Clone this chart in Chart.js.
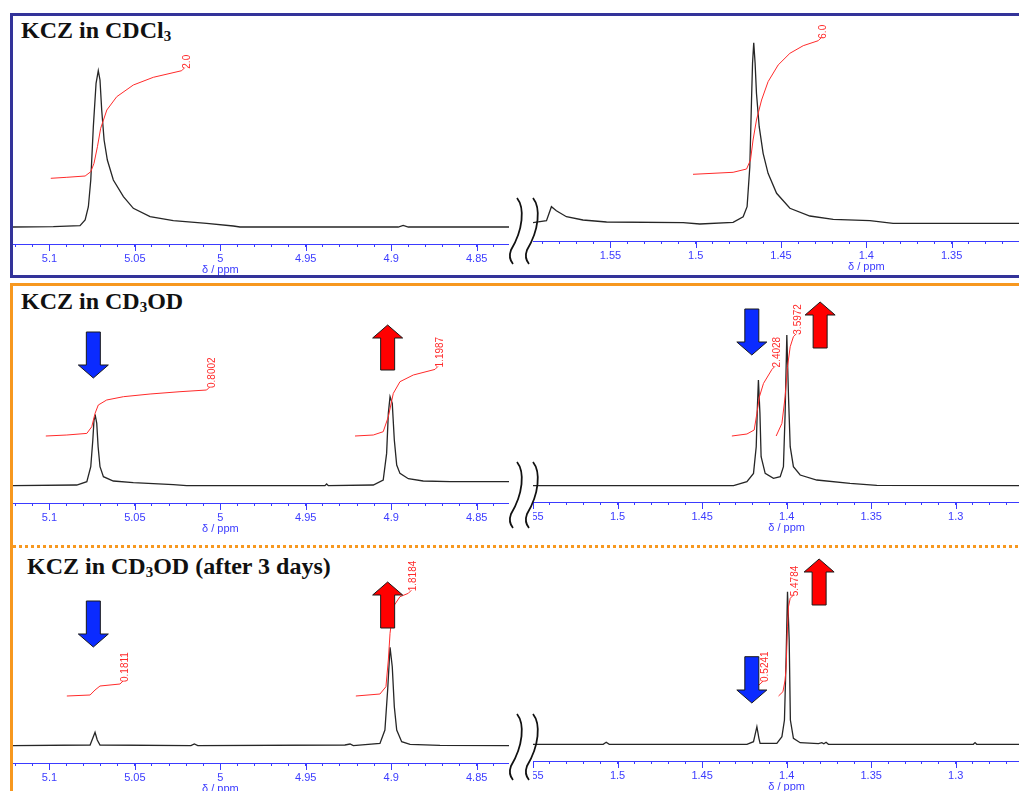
<!DOCTYPE html>
<html>
<head>
<meta charset="utf-8">
<script src="https://cdn.jsdelivr.net/npm/chart.js@4.4.0/dist/chart.umd.min.js"></script>
<style>
  body { margin: 0; width: 1019px; height: 791px; overflow: hidden; position: relative; background: #fff; }
  canvas { position: absolute; }
  .frame-cdcl3 { position: absolute; left: 10px; top: 13px; width: 1040px; height: 259px; border: 3px solid #333399; }
  .frame-cd3od-top { position: absolute; left: 10px; top: 283px; width: 1020px; height: 3px; background: #f7981f; }
  .frame-cd3od-left { position: absolute; left: 10px; top: 283px; width: 3px; height: 520px; background: #f7981f; }
  .dots { position: absolute; left: 13px; top: 545px; width: 1010px; height: 3px;
          background: repeating-linear-gradient(90deg, #f7981f 0 3px, transparent 3px 6px); }
  .title { position: absolute; font-family: "Liberation Serif", "Times New Roman", serif; font-weight: bold;
           font-size: 24px; line-height: 24px; color: #111; white-space: nowrap; }
  .title sub { font-size: 15px; vertical-align: -3px; line-height: 0; }
</style>
</head>
<body>
<div class="frame-cdcl3"></div>
<div class="frame-cd3od-top"></div>
<div class="frame-cd3od-left"></div>
<div class="dots"></div>
<div class="title" style="left:21px; top:18px;">KCZ in CDCl<sub>3</sub></div>
<div class="title" style="left:21px; top:289px;">KCZ in CD<sub>3</sub>OD</div>
<div class="title" style="left:27px; top:554px;">KCZ in CD<sub>3</sub>OD (after 3 days)</div>
<script>
// 横轴范围 (ppm)
const range5 = [4.8311, 5.1213];
const rangeCdcl3High = [1.3105, 1.5954];
const range14 = [1.2626, 1.55];
const minorStep = 0.01;
const majorStep = 0.05;

// 积分值
const integralValues = ['2.0', '6.0', '0.8002', '1.1987', '2.4028', '3.5972', '0.1811', '1.8184', '0.5241', '5.4784'];

// CDCl3 谱图 [ppm, 强度]
const cdcl3Spec5 = [[5.1213,0],[5.0977,0.3],[5.0821,1.3],[5.0791,7],[5.0772,20.3],[5.0758,47],[5.0743,100.3],[5.0727,143.7],[5.0714,156.3],[5.0704,147],[5.0694,117],[5.068,87],[5.0661,67],[5.0626,47],[5.0567,30.3],[5.0509,18.7],[5.0411,10.3],[5.0275,6.3],[5.008,3.7],[4.9924,1],[4.9885,0],[4.8959,0],[4.893,1.5],[4.89,0],[4.8311,0]];
const cdcl3Int5 = [[5.0992,48.7],[5.0898,49.7],[5.0791,51],[5.0758,55.3],[5.0739,63.7],[5.0719,80.3],[5.07,98.7],[5.0664,117],[5.0606,130.3],[5.0509,142],[5.0392,149.7],[5.0226,156.3]];
const cdcl3Spec14 = [[1.5954,1.3],[1.5875,3.3],[1.5846,17.3],[1.5817,13.3],[1.5758,7.3],[1.5661,4],[1.5523,2],[1.5074,1.3],[1.4976,0],[1.4781,1.7],[1.4722,7.3],[1.4699,17.3],[1.4683,57.3],[1.4673,124],[1.4667,160.7],[1.466,181.3],[1.4652,160.7],[1.4644,130.7],[1.4628,97.3],[1.4605,70.7],[1.4576,50.7],[1.4526,30.7],[1.4448,15.7],[1.4331,8],[1.4194,4.7],[1.3979,3.3],[1.3843,0.7],[1.3105,0.7]];
const cdcl3Int14 = [[1.5016,49.7],[1.4781,51.7],[1.4702,55],[1.4679,64],[1.4664,84],[1.4644,104],[1.4614,124],[1.4576,142.3],[1.4517,159],[1.4448,170.7],[1.437,178.3],[1.4282,183.3]];

// CD3OD 谱图
const cd3odSpec5 = [[5.1213,0],[5.084,0.7],[5.0781,4],[5.0758,19],[5.0746,45.7],[5.0739,65.7],[5.0731,69.7],[5.0723,62.3],[5.0715,39],[5.0704,19],[5.0684,9],[5.0626,4.7],[5.0509,3],[5.0275,1],[5.0197,0],[4.9388,0],[4.9378,1.7],[4.9368,0],[4.9105,0.7],[4.9047,5.7],[4.9027,32.3],[4.9017,72.3],[4.9007,89],[4.8994,82.3],[4.8982,45.7],[4.8968,20.7],[4.8949,12.3],[4.89,7],[4.8813,4.7],[4.8656,4],[4.8311,4]];
const cd3odInt5a = [[5.1021,49.7],[5.0898,50.7],[5.0781,52.3],[5.0752,59],[5.0733,72.3],[5.0714,80.7],[5.0665,85.7],[5.0567,89],[5.0411,91.7],[5.0236,94],[5.008,95.7]];
const cd3odInt5b = [[4.9212,49.7],[4.9105,50.7],[4.9047,54],[4.9017,69],[4.8988,92.3],[4.8949,104],[4.8871,110.7],[4.8744,116.3]];
const cd3odSpec14 = [[1.55,0],[1.4314,0],[1.4235,4],[1.4196,12.3],[1.418,39],[1.4173,79],[1.4167,105.7],[1.4158,72.3],[1.4151,29],[1.4127,12.3],[1.4078,7.3],[1.4038,9],[1.4019,19],[1.4009,72.3],[1.3999,150.7],[1.3989,89],[1.3979,39],[1.396,19],[1.392,10.7],[1.3822,5.7],[1.3625,2.4],[1.3467,0.4],[1.2626,0]];
const cd3odInt14a = [[1.4324,49.7],[1.4235,51.7],[1.4192,55.7],[1.4176,72.3],[1.4161,89],[1.4137,102.3],[1.4087,116.3]];
const cd3odInt14b = [[1.4062,49.7],[1.4028,62.3],[1.4009,89],[1.3995,119],[1.3979,139],[1.396,149]];

// CD3OD 3天后
const agedSpec5 = [[5.1213,0],[5.0762,0.7],[5.0743,9],[5.0733,13.4],[5.072,5.7],[5.0704,0.7],[5.0172,0],[5.0152,1.7],[5.0132,0],[4.9271,0.7],[4.9241,1.7],[4.9222,0],[4.9066,2.3],[4.9037,15.7],[4.9021,55.7],[4.9007,98.4],[4.8994,79],[4.8982,39],[4.8968,15.7],[4.8939,4],[4.889,1.4],[4.8715,0.4],[4.8311,0]];
const agedInt5a = [[5.0898,49.7],[5.0762,50.7],[5.0733,55.7],[5.0704,59.7],[5.0587,61.7]];
const agedInt5b = [[4.9207,49.7],[4.9066,51.7],[4.9031,59],[4.9017,85.7],[4.9007,112.4],[4.8988,139],[4.8949,149],[4.89,152.4]];
const agedSpec14 = [[1.55,0],[1.5085,0],[1.5067,2],[1.5049,0],[1.4235,0],[1.4196,2.6],[1.4176,17.6],[1.4164,6],[1.4157,1],[1.4058,1],[1.4028,7.6],[1.4013,24.3],[1.4003,87.6],[1.3995,152.6],[1.3985,104.3],[1.3978,24.3],[1.396,6],[1.392,1.6],[1.3812,0.7],[1.3792,1.7],[1.378,0.5],[1.3767,2],[1.3753,0],[1.2896,0],[1.2886,1.7],[1.2876,0],[1.2626,0]];
const agedInt14a = [[1.4192,57.3],[1.417,58.5],[1.4157,60.3]];
const agedInt14b = [[1.4048,48.3],[1.4022,52.6],[1.4009,64.3],[1.4003,77.6],[1.3995,117.6],[1.3989,137.6],[1.3979,146]];

// 颜色
const AXIS_BLUE = '#3b3bff';
const SPEC_BLACK = '#262626';
const INT_RED = '#ff2a2a';
const ARROW_BLUE = '#0b2bff';
const ARROW_RED = '#ff0000';

Chart.defaults.font.family = '"Liberation Sans", Arial, sans-serif';

function isMajor(v) {
  return Math.abs(v / majorStep - Math.round(v / majorStep)) < 1e-6;
}

function tickLabel(v) {
  return isMajor(v) ? String(Number(v.toFixed(2))) : '';
}

function toXY(arr) {
  return arr.map(p => ({ x: p[0], y: p[1] }));
}

// 粗箭头
function drawArrow(ctx, x, yFrom, yTo, fill) {
  const dir = Math.sign(yTo - yFrom);
  const shaft = 7, head = 15, headLen = 13;
  const yNeck = yTo - dir * headLen;
  ctx.beginPath();
  ctx.moveTo(x - shaft, yFrom);
  ctx.lineTo(x + shaft, yFrom);
  ctx.lineTo(x + shaft, yNeck);
  ctx.lineTo(x + head, yNeck);
  ctx.lineTo(x, yTo);
  ctx.lineTo(x - head, yNeck);
  ctx.lineTo(x - shaft, yNeck);
  ctx.closePath();
  ctx.fillStyle = fill;
  ctx.fill();
  ctx.strokeStyle = '#1a1a1a';
  ctx.lineWidth = 1;
  ctx.stroke();
}

// 断轴符号
function drawBreak(ctx, x0, yAxis) {
  ctx.strokeStyle = '#111';
  ctx.lineWidth = 1.8;
  [-16, 0].forEach(a => {
    const x = x0 + a;
    ctx.beginPath();
    ctx.moveTo(x, yAxis - 40);
    ctx.bezierCurveTo(x + 8, yAxis - 30, x + 6, yAxis - 8, x - 6, yAxis + 12);
    ctx.quadraticCurveTo(x - 9, yAxis + 20, x - 4, yAxis + 26);
    ctx.stroke();
  });
}

function makeDeco(cfg) {
  return {
    id: 'deco',
    afterDatasetsDraw(chart) {
      const ctx = chart.ctx;
      const xs = chart.scales.x, ys = chart.scales.y;
      ctx.save();
      // 积分值标签
      ctx.font = '10px "Liberation Sans"';
      ctx.fillStyle = INT_RED;
      ctx.strokeStyle = INT_RED;
      ctx.lineWidth = 1;
      chart.data.datasets.forEach(ds => {
        if (!ds.integral) return;
        const last = ds.data[ds.data.length - 1];
        const px = xs.getPixelForValue(last.x);
        const py = ys.getPixelForValue(last.y);
        ctx.beginPath();
        ctx.moveTo(px, py);
        ctx.lineTo(px + 3, py - 3);
        ctx.stroke();
        ctx.save();
        ctx.translate(px + 8, py - 2);
        ctx.rotate(-Math.PI / 2);
        ctx.textAlign = 'left';
        ctx.textBaseline = 'alphabetic';
        ctx.fillText(ds.integral, 0, 0);
        ctx.restore();
      });
      // 箭头
      (cfg.arrows || []).forEach(a => {
        drawArrow(ctx, xs.getPixelForValue(a.ppm), ys.getPixelForValue(a.from), ys.getPixelForValue(a.to), a.color);
      });
      ctx.restore();
    },
    afterDraw(chart) {
      const ctx = chart.ctx;
      const xs = chart.scales.x;
      const area = chart.chartArea;
      ctx.save();
      if (cfg.breakBefore) {
        ctx.clearRect(0, 0, area.left, chart.height);
      }
      // 主刻度加长
      ctx.strokeStyle = AXIS_BLUE;
      ctx.lineWidth = 1;
      xs.ticks.forEach(t => {
        if (!isMajor(t.value)) return;
        const px = Math.round(xs.getPixelForValue(t.value)) + 0.5;
        if (px < area.left - 1) return;
        ctx.beginPath();
        ctx.moveTo(px, area.bottom);
        ctx.lineTo(px, area.bottom + 7);
        ctx.stroke();
      });
      ctx.fillStyle = AXIS_BLUE;
      ctx.font = '11px "Liberation Sans"';
      ctx.textAlign = 'center';
      ctx.textBaseline = 'middle';
      ctx.fillText('δ / ppm', xs.getPixelForValue(cfg.unitAt), area.bottom + 26);
      if (cfg.breakBefore) {
        drawBreak(ctx, area.left, area.bottom + (cfg.breakShift || 0));
      }
      ctx.restore();
    }
  };
}

function makePanel(cfg) {
  const pad = cfg.breakBefore ? 28 : 0;
  const canvas = document.createElement('canvas');
  canvas.width = cfg.right - cfg.left + pad;
  canvas.height = cfg.axisY - cfg.top + 32;
  canvas.style.left = (cfg.left - pad) + 'px';
  canvas.style.top = cfg.top + 'px';
  document.body.appendChild(canvas);

  const datasets = cfg.integrals.map(it => ({
    data: toXY(it.data), integral: it.text,
    borderColor: INT_RED, borderWidth: 1, order: 0
  }));
  datasets.push({ data: toXY(cfg.spectrum), borderColor: SPEC_BLACK, borderWidth: 1.3, order: 1 });

  new Chart(canvas, {
    type: 'line',
    data: { datasets },
    options: {
      responsive: false,
      animation: false,
      events: [],
      layout: { padding: { left: pad, right: 0, top: 0, bottom: 0 } },
      elements: { point: { radius: 0 }, line: { tension: 0, fill: false } },
      plugins: { legend: { display: false }, tooltip: { enabled: false } },
      scales: {
        x: {
          type: 'linear', reverse: true,
          min: cfg.range[0], max: cfg.range[1],
          border: { display: true, color: AXIS_BLUE, width: 1 },
          grid: { drawOnChartArea: false, drawTicks: true, tickLength: 3, color: AXIS_BLUE },
          ticks: {
            stepSize: minorStep, autoSkip: false, maxRotation: 0, minRotation: 0,
            includeBounds: false, padding: 5, color: AXIS_BLUE,
            font: { size: 11 }, callback: tickLabel
          },
          afterFit(s) { s.height = 32; s.paddingLeft = 0; s.paddingRight = 0; }
        },
        y: { display: false, min: -(cfg.axisY - cfg.baseY), max: cfg.baseY - cfg.top }
      }
    },
    plugins: [makeDeco(cfg)]
  });
}

// CDCl3
makePanel({ left: 13, right: 509, top: 16, axisY: 244, baseY: 227, range: range5, unitAt: 5.0,
  spectrum: cdcl3Spec5, integrals: [{ data: cdcl3Int5, text: integralValues[0] }] });
makePanel({ left: 533, right: 1019, top: 16, axisY: 241, baseY: 224, range: rangeCdcl3High, unitAt: 1.4,
  breakBefore: true, breakShift: -3,
  spectrum: cdcl3Spec14, integrals: [{ data: cdcl3Int14, text: integralValues[1] }] });

// CD3OD
makePanel({ left: 13, right: 509, top: 288, axisY: 503, baseY: 485.7, range: range5, unitAt: 5.0,
  spectrum: cd3odSpec5,
  integrals: [{ data: cd3odInt5a, text: integralValues[2] }, { data: cd3odInt5b, text: integralValues[3] }],
  arrows: [{ ppm: 5.0743, from: 153.7, to: 107.7, color: ARROW_BLUE }, { ppm: 4.9021, from: 115.7, to: 160.7, color: ARROW_RED }] });
makePanel({ left: 533, right: 1019, top: 288, axisY: 502, baseY: 485.7, range: range14, unitAt: 1.4,
  breakBefore: true, breakShift: 0,
  spectrum: cd3odSpec14,
  integrals: [{ data: cd3odInt14a, text: integralValues[4] }, { data: cd3odInt14b, text: integralValues[5] }],
  arrows: [{ ppm: 1.4206, from: 176.7, to: 130.7, color: ARROW_BLUE }, { ppm: 1.3802, from: 137.7, to: 183.7, color: ARROW_RED }] });

// CD3OD after 3 days
makePanel({ left: 13, right: 509, top: 550, axisY: 763, baseY: 745.7, range: range5, unitAt: 5.0,
  spectrum: agedSpec5,
  integrals: [{ data: agedInt5a, text: integralValues[6] }, { data: agedInt5b, text: integralValues[7] }],
  arrows: [{ ppm: 5.0743, from: 144.7, to: 98.7, color: ARROW_BLUE }, { ppm: 4.9021, from: 117.7, to: 163.7, color: ARROW_RED }] });
makePanel({ left: 533, right: 1019, top: 550, axisY: 761, baseY: 744.3, range: range14, unitAt: 1.4,
  breakBefore: true, breakShift: -7,
  spectrum: agedSpec14,
  integrals: [{ data: agedInt14a, text: integralValues[8] }, { data: agedInt14b, text: integralValues[9] }],
  arrows: [{ ppm: 1.4206, from: 87.6, to: 41.3, color: ARROW_BLUE }, { ppm: 1.3808, from: 139.3, to: 185.3, color: ARROW_RED }] });
</script>
</body>
</html>
